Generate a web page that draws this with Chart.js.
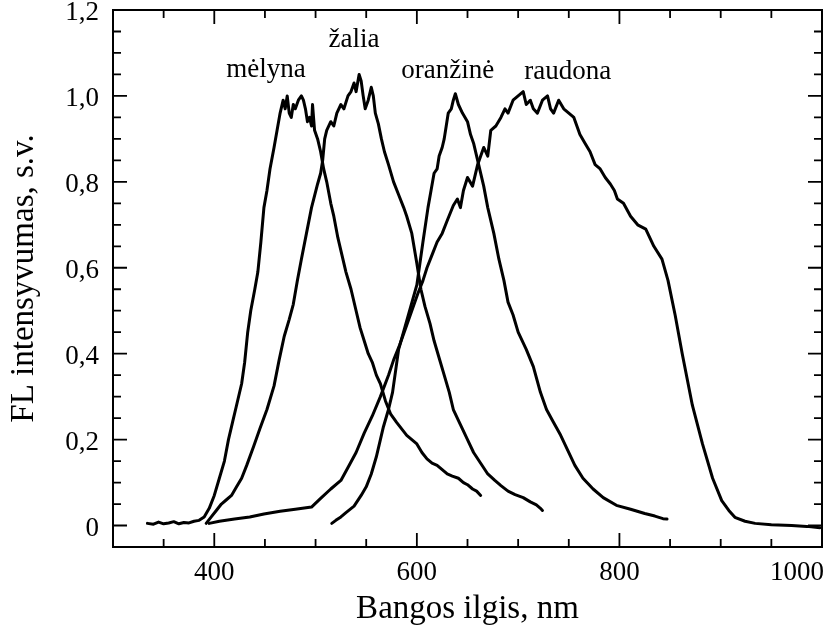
<!DOCTYPE html>
<html>
<head>
<meta charset="utf-8">
<script src="https://cdn.jsdelivr.net/npm/chart.js@4.4.0/dist/chart.umd.min.js"></script>
<style>
html,body{margin:0;padding:0;background:#fff;}
#wrap{width:830px;height:633px;}
</style>
</head>
<body>
<div id="wrap"><canvas id="c" width="830" height="633"></canvas></div>
<script>
// ---- data (wavelength nm, normalized intensity) ----
const blueX = [334,340,345,350,355,360,365,370,375,380,385,390,395,400,405,410,414,418,422,427,430,433,436,440,443,446,449,452,455,459,462,465,468,470,472,474,476,478,480,483,486,488,490,492,494,496,497,499,502,505,508,511,515,518,522,526,530,535,540,544,548,552,556,560,564,569,574,580,585,590,595,600,605,610,615,620,625,630,635,641,646,650,655,659,663];
const blueY = [0.005,0.003,0.008,0.004,0.006,0.009,0.004,0.007,0.006,0.01,0.012,0.02,0.04,0.07,0.11,0.15,0.20,0.24,0.28,0.33,0.38,0.45,0.50,0.55,0.59,0.66,0.74,0.78,0.83,0.88,0.92,0.96,0.99,0.97,1.0,0.96,0.95,0.98,0.97,0.99,1.0,0.99,0.97,0.94,0.95,0.93,0.98,0.92,0.90,0.87,0.83,0.80,0.75,0.72,0.67,0.63,0.59,0.55,0.50,0.46,0.43,0.40,0.38,0.35,0.33,0.29,0.26,0.24,0.225,0.21,0.20,0.19,0.17,0.155,0.145,0.14,0.13,0.12,0.115,0.11,0.10,0.095,0.085,0.08,0.07];

const greenX = [392,397,402,407,412,417,422,427,432,439,445,452,459,464,469,474,478,482,486,491,496,502,505,507,509,511,515,518,521,525,528,532,535,538,540,543,545,547,549,552,555,557,559,562,565,568,572,577,582,587,590,595,600,604,608,613,617,622,627,632,636,643,650,656,663,670,677,683,690,697,705,712,718,722,724];
const greenY = [0.005,0.02,0.035,0.05,0.06,0.07,0.09,0.11,0.14,0.185,0.225,0.27,0.325,0.385,0.44,0.48,0.515,0.57,0.62,0.68,0.74,0.795,0.82,0.85,0.90,0.92,0.94,0.93,0.96,0.98,0.97,1.0,1.01,1.03,1.01,1.05,1.035,1.0,0.97,0.99,1.02,1.0,0.96,0.935,0.90,0.87,0.84,0.80,0.77,0.74,0.72,0.68,0.61,0.55,0.51,0.47,0.43,0.39,0.35,0.31,0.27,0.235,0.20,0.17,0.145,0.12,0.105,0.093,0.08,0.072,0.065,0.055,0.048,0.04,0.035];

const orangeX = [516,520,525,530,538,545,550,555,560,564,567,572,576,582,588,594,600,603,606,611,614,617,620,622,625,627,629,631,634,636,638,641,645,650,653,656,661,666,670,676,681,686,690,695,700,708,715,722,728,735,742,749,756,764,774,784,797,811,825,835,843,847];
const orangeY = [0.005,0.012,0.02,0.03,0.045,0.07,0.09,0.12,0.16,0.20,0.23,0.27,0.31,0.41,0.46,0.51,0.56,0.61,0.66,0.74,0.78,0.82,0.83,0.86,0.88,0.90,0.93,0.96,0.97,0.99,1.005,0.98,0.96,0.94,0.91,0.89,0.84,0.79,0.74,0.68,0.62,0.57,0.52,0.49,0.45,0.41,0.37,0.31,0.27,0.24,0.21,0.175,0.14,0.11,0.085,0.065,0.047,0.038,0.028,0.022,0.016,0.015];

const redX = [395,405,420,435,449,465,480,496,505,515,525,532,540,548,556,564,572,577,583,589,595,601,606,610,615,620,625,630,636,640,643,646,650,655,660,666,670,673,678,683,687,690,695,700,705,708,712,715,719,724,729,732,735,740,745,750,755,758,761,766,771,776,781,786,791,795,798,804,811,818,826,834,842,848,855,862,872,882,892,901,908,914,924,934,950,970,985,998];
const redY = [0.005,0.01,0.015,0.02,0.027,0.033,0.038,0.043,0.063,0.085,0.105,0.135,0.17,0.215,0.255,0.30,0.35,0.385,0.42,0.46,0.50,0.54,0.57,0.60,0.63,0.66,0.68,0.71,0.745,0.76,0.74,0.78,0.81,0.79,0.84,0.88,0.86,0.92,0.93,0.95,0.97,0.96,0.99,1.0,1.01,0.98,0.99,0.97,0.96,0.99,1.0,0.97,0.96,0.99,0.97,0.96,0.95,0.93,0.91,0.89,0.87,0.84,0.83,0.81,0.795,0.78,0.76,0.75,0.72,0.70,0.69,0.65,0.62,0.57,0.49,0.40,0.28,0.19,0.11,0.058,0.035,0.019,0.01,0.005,0.002,0.0,-0.002,-0.005];

const seriesNames = ['mėlyna','žalia','oranžinė','raudona'];
const seriesLabelX = [451,538,630.5,749];
const seriesLabelY = [1.044,1.114,1.042,1.040];

const xTickValues = [400,600,800,1000];
const yTickValues = [0,0.2,0.4,0.6,0.8,1.0,1.2];

const xTitle = 'Bangos ilgis, nm';
const yTitle = 'FL intensyvumas, s.v.';

// ---- chart ----
const FONT = '"Liberation Serif", "DejaVu Serif", serif';
Chart.defaults.font.family = FONT;
Chart.defaults.color = '#000';

function pts(xs, ys){ return xs.map((x,i)=>({x:x, y:ys[i]})); }

const seriesData = [pts(blueX,blueY), pts(greenX,greenY), pts(orangeX,orangeY), pts(redX,redY)];

const framePlugin = {
  id: 'frame',
  afterDraw(chart){
    const {ctx, chartArea:a, scales:{x, y}} = chart;
    ctx.save();
    ctx.strokeStyle = '#000';
    ctx.lineWidth = 2;
    ctx.strokeRect(a.left, a.top, a.right - a.left, a.bottom - a.top);
    ctx.lineWidth = 1.8;
    ctx.beginPath();
    // x ticks every 50 nm
    for (let v = 350; v < 1000; v += 50){
      const px = x.getPixelForValue(v);
      const L = (v % 200 === 0) ? 14 : 8;
      ctx.moveTo(px, a.bottom); ctx.lineTo(px, a.bottom - L);
      ctx.moveTo(px, a.top); ctx.lineTo(px, a.top + L);
    }
    // y ticks every 0.05
    for (let k = 0; k <= 24; k++){
      const v = k * 0.05;
      const py = y.getPixelForValue(v);
      const L = (k % 4 === 0) ? 14 : 8;
      ctx.moveTo(a.left, py); ctx.lineTo(a.left + L, py);
      ctx.moveTo(a.right, py); ctx.lineTo(a.right - L, py);
    }
    ctx.stroke();
    // x tick labels
    ctx.fillStyle = '#000';
    ctx.font = '27px ' + FONT;
    ctx.textBaseline = 'alphabetic';
    xTickValues.forEach((v, i) => {
      const px = x.getPixelForValue(v);
      const last = i === xTickValues.length - 1;
      ctx.textAlign = last ? 'right' : 'center';
      ctx.fillText(String(v), last ? px + 2 : px, a.bottom + 33);
    });
    // series labels
    ctx.textAlign = 'center';
    seriesNames.forEach((t, i) => {
      ctx.fillText(t, x.getPixelForValue(seriesLabelX[i]), y.getPixelForValue(seriesLabelY[i]));
    });
    ctx.restore();
  }
};

new Chart(document.getElementById('c'), {
  type: 'line',
  data: {
    datasets: seriesData.map((d, i) => ({
      label: seriesNames[i],
      data: d,
      borderColor: '#000',
      borderWidth: 3,
      pointRadius: 0,
      tension: 0,
      fill: false,
      borderJoinStyle: 'round',
      borderCapStyle: 'round'
    }))
  },
  options: {
    responsive: false,
    animation: false,
    devicePixelRatio: 1,
    layout: { padding: { top: 10, right: 8, left: 0, bottom: 0 } },
    plugins: { legend: { display: false }, tooltip: { enabled: false } },
    scales: {
      x: {
        type: 'linear',
        min: 300, max: 1000,
        afterBuildTicks: s => { s.ticks = xTickValues.map(v => ({value: v})); },
        afterFit: s => { s.height = 86; s.paddingLeft = 0; s.paddingRight = 0; },
        grid: { display: false, drawTicks: false },
        border: { display: false },
        ticks: { display: false },
        title: { display: true, text: xTitle, color: '#000', font: { family: FONT, size: 33 }, padding: { top: 4, bottom: 4 } }
      },
      y: {
        type: 'linear',
        min: -0.05, max: 1.2,
        afterBuildTicks: s => { s.ticks = yTickValues.map(v => ({value: v})); },
        afterFit: s => { s.width = 113; s.paddingTop = 0; s.paddingBottom = 0; },
        grid: { display: false, drawTicks: false },
        border: { display: false },
        ticks: {
          color: '#000',
          font: { family: FONT, size: 27 },
          padding: 14,
          labelOffset: 3,
          callback: v => v === 0 ? '0' : v.toFixed(1).replace('.', ',')
        },
        title: { display: true, text: yTitle, color: '#000', font: { family: FONT, size: 33 }, padding: { top: 5, bottom: 0 } }
      }
    }
  },
  plugins: [framePlugin]
});
</script>
</body>
</html>
